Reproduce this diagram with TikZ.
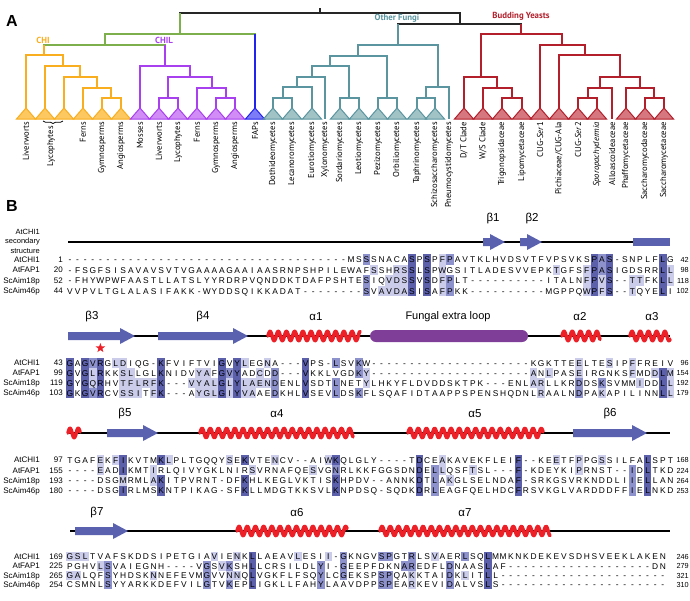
\documentclass[tikz,border=0pt]{standalone}
\usepackage{fontspec}
\setmainfont{Liberation Sans}
\newfontfamily\treefont{PT Sans}
\usetikzlibrary{shapes.geometric, decorations.pathreplacing}
\definecolor{chiline}{RGB}{249,174,31}
\definecolor{chifill}{RGB}{252,200,95}
\definecolor{chilline}{RGB}{168,64,240}
\definecolor{chilfill}{RGB}{210,140,245}
\definecolor{fapline}{RGB}{34,34,238}
\definecolor{fapfill}{RGB}{124,124,247}
\definecolor{fungline}{RGB}{90,149,160}
\definecolor{fungfill}{RGB}{162,195,198}
\definecolor{yeastline}{RGB}{179,32,44}
\definecolor{yeastfill}{RGB}{214,119,127}
\definecolor{plantgreen}{RGB}{125,176,76}
\definecolor{strandblue}{RGB}{90,98,176}
\definecolor{helixred}{RGB}{237,32,40}
\definecolor{loopviolet}{RGB}{127,63,152}
\definecolor{consdark}{RGB}{92,96,170}
\definecolor{consmid}{RGB}{142,146,204}
\definecolor{conslight}{RGB}{202,204,234}

\tikzset{
  rootline/.style={draw=black!85, line width=1.2pt},
  plant/.style={draw=plantgreen, line width=1.2pt},
  chi/.style={draw=chiline, line width=1.2pt},
  chil/.style={draw=chilline, line width=1.2pt},
  fap/.style={draw=fapline, line width=1.2pt},
  fung/.style={draw=fungline, line width=1.2pt},
  yeast/.style={draw=yeastline, line width=1.2pt},
  taxon/.style={rotate=90, anchor=east, inner sep=0pt, font=\treefont\fontsize{8.6}{9}\selectfont},
  cladelab/.style={font=\treefont\bfseries\fontsize{8.8}{10}\selectfont},
  panel/.style={font=\bfseries\fontsize{16}{16}\selectfont},
  res/.style={inner sep=0pt, text height=6pt, text depth=0pt, font=\fontsize{8.4}{9}\selectfont},
  seqname/.style={anchor=east, inner sep=0pt, text height=5.8pt, text depth=0pt, font=\fontsize{8}{9}\selectfont},
  seqend/.style={anchor=east, inner sep=0pt, text height=5.4pt, text depth=0pt, font=\fontsize{7.3}{8}\selectfont},
  sslab/.style={font=\fontsize{11.5}{12}\selectfont},
  cons1/.style={fill=conslight},
  cons2/.style={fill=consmid},
  cons3/.style={fill=consdark},
  backbone/.style={draw=black, line width=2.2pt},
  helixline/.style={draw=helixred, line width=3.6pt, line cap=round, line join=round}
}

% leaf of the cladogram: triangle, or a bare stick
\newcommand\leaf[4]{%
  \coordinate (#1) at (#2,108);
  \filldraw[#3, fill=#3fill, line width=1pt] (#1) -- ++(-9.5,11) -- ++(19,0) -- cycle;
  \node[taxon] (#1-lab) at (#2,122) {#4};}
\newcommand\stick[3]{%
  \coordinate (#1) at (#2,119);
  \node[taxon] (#1-lab) at (#2,122) {#3};}

% secondary structure elements
\newcommand\ssstrand[3]{\fill[strandblue] (#1,#3-4) -- (#2-15,#3-4) -- (#2-15,#3-8) -- (#2,#3) -- (#2-15,#3+8) -- (#2-15,#3+4) -- (#1,#3+4) -- cycle;}
\newcommand\sshelix[3]{\draw[helixline] plot[domain=#1:#2, samples=300] (\x,{#3-4.6*sin(43.9*(\x-#1))});}

% one alignment row: digits 1/2/3 shade the next residue
\makeatletter
\newcount\rescol
\newcommand\seqline[6]{%
  \node[seqname] (#1-name) at (40,#2) {#3};
  \node[seqname] (#1-first) at (63,#2) {#4};
  \node[seqend] (#1-last) at (689,#2) {#6};
  \rescol=0 \def\res@shade{0}%
  \def\res@y{#2}\def\res@row{#1}%
  \@tfor\res@ch:=#5\do{\res@step}}
\def\res@step{%
  \if1\res@ch \def\res@shade{1}\else
  \if2\res@ch \def\res@shade{2}\else
  \if3\res@ch \def\res@shade{3}\else
    \res@put
  \fi\fi\fi}
\def\res@put{%
  \advance\rescol by 1
  \ifnum\res@shade>0
    \fill[cons\res@shade] ({66.2+(\the\rescol-1)*7.6},{\res@y-\rowh/2}) rectangle ++(7.6,\rowh);
  \fi
  \node[res] (\res@row-\the\rescol) at ({70+(\the\rescol-1)*7.6},\res@y) {\res@ch};
  \def\res@shade{0}}
\makeatother

\begin{document}
\begin{tikzpicture}[x=1pt, y=-1pt]
\useasboundingbox (0,0) rectangle (690,600);
\fill[white] (0,0) rectangle (690,600);

% ---- Panel A ----
\node[panel] (pa) at (12,21) {A};

\coordinate (root) at (320,13);
\coordinate (gr) at (180,34);
\coordinate (plant) at (105,45);
\coordinate (chi) at (44,55);
\coordinate (o2) at (63,66);
\coordinate (o3) at (80,77);
\coordinate (o4) at (97,88);
\coordinate (o5) at (111,98);
\coordinate (chil) at (165,66);
\coordinate (p2) at (190,77);
\coordinate (p3) at (168,98);
\coordinate (p4) at (212,88);
\coordinate (p5) at (226,98);
\coordinate (fun) at (460,24);
\coordinate (ofu) at (398,45);
\coordinate (t1) at (358,56);
\coordinate (t2) at (330,66);
\coordinate (t3) at (312,77);
\coordinate (t3a) at (297,87);
\coordinate (t3b) at (283,98);
\coordinate (t4) at (349,98);
\coordinate (t5) at (387,98);
\coordinate (t6) at (438,87);
\coordinate (t7) at (426,98);
\coordinate (bud) at (521,34);
\coordinate (r1) at (481,77);
\coordinate (r2) at (497,88);
\coordinate (r3) at (512,98);
\coordinate (r4) at (562,45);
\coordinate (r5) at (585,55);
\coordinate (r6) at (620,77);
\coordinate (r7) at (600,88);
\coordinate (r8) at (588,98);
\coordinate (r9) at (640,88);
\coordinate (r10) at (654,98);

\leaf{cl1}{26}{chi}{Liverworts}
\leaf{cl2}{45}{chi}{}
\leaf{cl3}{64}{chi}{}
\leaf{cl4}{83}{chi}{Ferns}
\leaf{cl5}{102}{chi}{Gymnosperms}
\leaf{cl6}{121}{chi}{Angiosperms}
\leaf{pl1}{140}{chil}{Mosses}
\leaf{pl2}{159}{chil}{Liverworts}
\leaf{pl3}{178}{chil}{Lycophytes}
\leaf{pl4}{197}{chil}{Ferns}
\leaf{pl5}{216}{chil}{Gymnosperms}
\leaf{pl6}{235}{chil}{Angiosperms}
\leaf{fap}{255}{fap}{FAPs}
\leaf{fu1}{273}{fung}{Dothideomycetes}
\leaf{fu2}{292}{fung}{Lecanoromycetes}
\leaf{fu3}{312}{fung}{Eurotiomycetes}
\stick{fu4}{325}{Xylonomycetes}
\leaf{fu5}{340}{fung}{Sordariomycetes}
\leaf{fu6}{359}{fung}{Leotiomycetes}
\leaf{fu7}{378}{fung}{Pezizomycetes}
\leaf{fu8}{397}{fung}{Orbiliomycetes}
\leaf{fu9}{417}{fung}{Taphrinomycetes}
\leaf{fu10}{435}{fung}{Schizosaccharomycetes}
\stick{fu11}{449}{Pneumocystidomycetes}
\leaf{by1}{464}{yeast}{D/T Clade}
\leaf{by2}{483}{yeast}{W/S Clade}
\leaf{by3}{502}{yeast}{Trigonopsidaceae}
\leaf{by4}{522}{yeast}{Lipomycetaceae}
\leaf{by5}{540}{yeast}{CUG-\textit{Ser}1}
\leaf{by6}{559}{yeast}{Pichiaceae/CUG-Ala}
\leaf{by7}{578}{yeast}{CUG-\textit{Ser}2}
\leaf{by8}{597}{yeast}{\textit{Sporopachydermia}}
\stick{by9}{612}{Alloascoideaceae}
\leaf{by10}{626}{yeast}{Phaffomycetaceae}
\leaf{by11}{645}{yeast}{Saccharomycodaceae}
\leaf{by12}{664}{yeast}{Saccharomycetaceae}

\draw[black, line width=0.7pt, decorate, decoration={brace, amplitude=2.5pt, mirror}] (43,121) -- (63,121);
\node[taxon] (lyco-lab) at (51,126) {Lycophytes};

\draw[rootline] (root) -- ++(0,-5);
\draw[rootline] (gr) |- (root) -| (fun);
\draw[plant] (gr) -- (gr |- root);
\draw[plant] (plant) |- (gr) -| (fap);
\draw[fap] (fap) -- (fap |- gr);
\draw[plant] (chi) |- (plant) -| (chil);
\draw[chi] (chi) -- (chi |- plant);
\draw[chil] (chil) -- (chil |- plant);
\draw[chi] (cl1) |- (chi) -| (o2);
\draw[chi] (cl2) |- (o2) -| (o3);
\draw[chi] (cl3) |- (o3) -| (o4);
\draw[chi] (cl4) |- (o4) -| (o5);
\draw[chi] (cl5) |- (o5) -| (cl6);
\draw[chil] (pl1) |- (chil) -| (p2);
\draw[chil] (p3) |- (p2) -| (p4);
\draw[chil] (pl2) |- (p3) -| (pl3);
\draw[chil] (pl4) |- (p4) -| (p5);
\draw[chil] (pl5) |- (p5) -| (pl6);
\draw[rootline] (ofu) |- (fun) -| (bud);
\draw[fung] (ofu) -- (ofu |- fun);
\draw[yeast] (bud) -- (bud |- fun);
\draw[fung] (t1) |- (ofu) -| (t6);
\draw[fung] (t2) |- (t1) -| (t5);
\draw[fung] (t3) |- (t2) -| (t4);
\draw[fung] (t3a) |- (t3) -| (fu4);
\draw[fung] (t3b) |- (t3a) -| (fu3);
\draw[fung] (fu1) |- (t3b) -| (fu2);
\draw[fung] (fu5) |- (t4) -| (fu6);
\draw[fung] (fu7) |- (t5) -| (fu8);
\draw[fung] (t7) |- (t6) -| (fu11);
\draw[fung] (fu9) |- (t7) -| (fu10);
\draw[yeast] (r1) |- (bud) -| (r4);
\draw[yeast] (by1) |- (r1) -| (r2);
\draw[yeast] (by2) |- (r2) -| (r3);
\draw[yeast] (by3) |- (r3) -| (by4);
\draw[yeast] (by5) |- (r4) -| (r5);
\draw[yeast] (by6) |- (r5) -| (r6);
\draw[yeast] (r7) |- (r6) -| (r9);
\draw[yeast] (r8) |- (r7) -| (by9);
\draw[yeast] (by7) |- (r8) -| (by8);
\draw[yeast] (by10) |- (r9) -| (r10);
\draw[yeast] (by11) |- (r10) -| (by12);

\node[cladelab, text=chiline] (chilab) at (43,40) {CHI};
\node[cladelab, text=chilline] (chillab) at (164,40) {CHIL};
\node[cladelab, text=fungline] (fungilab) at (397,18.5) {Other Fungi};
\node[cladelab, text=yeastline] (yeastlab) at (521,16) {Budding Yeasts};

% ---- Panel B ----
\node[panel] (pb) at (12,206) {B};
\node[anchor=east, align=right, inner sep=0pt, font=\fontsize{7.5}{9.5}\selectfont] (sslegend) at (40,241) {AtCHI1\\secondary\\structure};

% block 1
\draw[backbone] (68,242) -- (670,242);
\ssstrand{483}{505}{242}
\ssstrand{520}{542}{242}
\fill[strandblue] (633,238) rectangle (670,246);
\node[sslab] (lb1) at (493,219) {β1};
\node[sslab] (lb2) at (532,219) {β2};
\def\rowh{10.5}
\seqline{ua}{259.5}{AtCHI1}{1}{-------------------------------------MS2SSNACA3SP3SP1F2PAVTKLHVDSVTFVPSVKS3P2A3S-SNPLF3LG}{42}
\seqline{ub}{270}{AtFAP1}{20}{-FSGFSISAVAVSVTVGAAAAGAAIAASRNPSHPILEWAF1SSH1R1S3SL3SP1WGSITLADESVVEPK1TGFS1F3P2A3SIGDSRR3L1L}{98}
\seqline{uc}{280.5}{ScAim18p}{52}{-FHYWPWFAASTLLATSLYYRDRPVQNDDKTDAFPSHTE2SIQ1V1D1S3SV3SD1F2PLT----------ITALN1F3P1V3S--1T1TFK3L1L}{118}
\seqline{ud}{291}{ScAim46p}{44}{VVPVLTGLALASIFAKK-WYDDSQIKKADAT--------2SV1A1V1D1A3SI3SA1F2PKK----------MGPPQ1W3P1F3S--1TQYE3LI}{102}

% block 2
\draw[backbone] (68,336) -- (670,336);
\ssstrand{68}{135}{336}
\ssstrand{158}{248}{336}
\sshelix{268}{360}{336}
\fill[loopviolet, rounded corners=6pt] (370,330) rectangle (528,342);
\sshelix{562}{600}{336}
\sshelix{630}{670}{336}
\node[sslab] (lb3) at (92,317) {β3};
\node[sslab] (lb4) at (203,317) {β4};
\node[sslab] (la1) at (316,317) {α1};
\node[sslab, font=\fontsize{11}{12}\selectfont] (lloop) at (448,317) {Fungal extra loop};
\node[sslab] (la2) at (580,317) {α2};
\node[sslab] (la3) at (652,317) {α3};
\node[star, star points=5, star point ratio=2.4, fill=helixred, minimum size=10pt, inner sep=0pt] (keyres) at (100.4,348) {};
\def\rowh{10}
\seqline{va}{363}{AtCHI1}{43}{3GA3G2V3RG1L1DIQG-3KFVIFTVI3GV3Y1LEG1NA---3VPS-2LSV2KW---------------------KGKTTE1ELTE1SIP1FFREIV}{96}
\seqline{vb}{373}{AtFAP1}{99}{3GV3G1L3RKK1S1LLGL3KNIDV1Y1AF3G2V3YAD1CD2D---3VKKLVGD2K1Y---------------------1AN1LPAS1EIRGNKS1FMD1D3L1M}{154}
\seqline{vc}{383}{ScAim18p}{119}{3GY3G1Q3RHV1T1F1L1R1F3K---1V1Y1A1L3G1L3Y1L1A1E1N2DENL3VSDT2LNET1YLHKYFLDVDDSKTPK---ENL1A1RLLKR2DDS2KSVMM1IDD3L1L}{192}
\seqline{vd}{393}{ScAim46p}{103}{3GK3G2V3RCV1S1S1IT1F3K---A1Y1G1L3G1I3Y1V1AAE2DKHL3VSEV2LDS2KFLSQAFIDTAAPPSPENSHQDNL1RAALN2DPA1KAPILINN3L1L}{179}

% block 3
\draw[backbone] (68,433) -- (670,433);
\sshelix{68}{80}{433}
\ssstrand{107}{158}{433}
\sshelix{200}{353}{433}
\sshelix{408}{543}{433}
\ssstrand{573}{647}{433}
\node[sslab] (lb5) at (125,414) {β5};
\node[sslab] (la4) at (277,414) {α4};
\node[sslab] (la5) at (475,414) {α5};
\node[sslab] (lb6) at (610,414) {β6};
\def\rowh{10.3}
\seqline{wa}{460}{AtCHI1}{97}{TGAF1EK1F3IKVTM3K1LPLTGQQY1SE3KVTE1NCV--AI1W3KQLGLY----T3DCE1AKAVEKFLEI3F--KE1ETF1PPG1SSILFA3LSPT}{168}
\seqline{wb}{470.3}{AtFAP1}{155}{----1EAD3IKMT1IRLQIVYGKLNIR1SVRNAFQE1SVG2NRLKKFGGSDN3DE2L1LQSF1TSL---3F-KDEYKI1PRNST--2ID3LTKD}{224}
\seqline{wc}{480.6}{ScAim18p}{193}{----DSG1MRML1A3KITPVRNT-DF3KHLKEGLVKTIS3KHPDV--ANNK3DT2LA1KGLSELNDA3F-SRKGSVRKNDDLI2IE3LLAN}{264}
\seqline{wd}{490.9}{ScAim46p}{180}{----DSG3IRLMS3KNTPIKAG-SF3KLLMDGTKKSVL3KNPDSQ-SQDK3DR2LEAGFQELHDC3FRSVKGLVARDDDFF2IE3LNKD}{253}

% block 4
\draw[backbone] (70,531) -- (670,531);
\ssstrand{75}{128}{531}
\sshelix{237}{347}{531}
\sshelix{380}{550}{531}
\node[sslab] (lb7) at (97,513) {β7};
\node[sslab] (la6) at (297,513) {α6};
\node[sslab] (la7) at (465,513) {α7};
\def\rowh{9.3}
\seqline{xa}{556.7}{AtCHI1}{169}{1G1S1LTVAFSKDDSIPETGIA1VIE1NK3LLAEAV1LESI1I-2GKNGV2S2PGT2RLS1VAER2LSQ3LMMKNKDEKEVSDHSVEEKLAKEN}{246}
\seqline{xb}{566}{AtFAP1}{225}{PGHV1L2SVAIEGNH----V2GS1V2KSH3LLCRSILDL2YI-2GEEPFDKN2A2REDFL2DNAAS3LAF-------------------DN}{279}
\seqline{xc}{575.3}{ScAim18p}{265}{1G1ALQF2SYHDSK1NNEFEVM2GVV1N1NQ3LVGKFLFSQ2YLC2GEKSP2S2PQA1KKTAI2DK1LIT3LL----------------------}{321}
\seqline{xd}{584.6}{ScAim46p}{254}{CSMNL2SYYARKKDEFVIL2GTV2KEP3LIGKLLFAH2YLAAVDPP2S2PEA1RKEVI2DALVS3LS----------------------}{310}
\end{tikzpicture}
\end{document}
